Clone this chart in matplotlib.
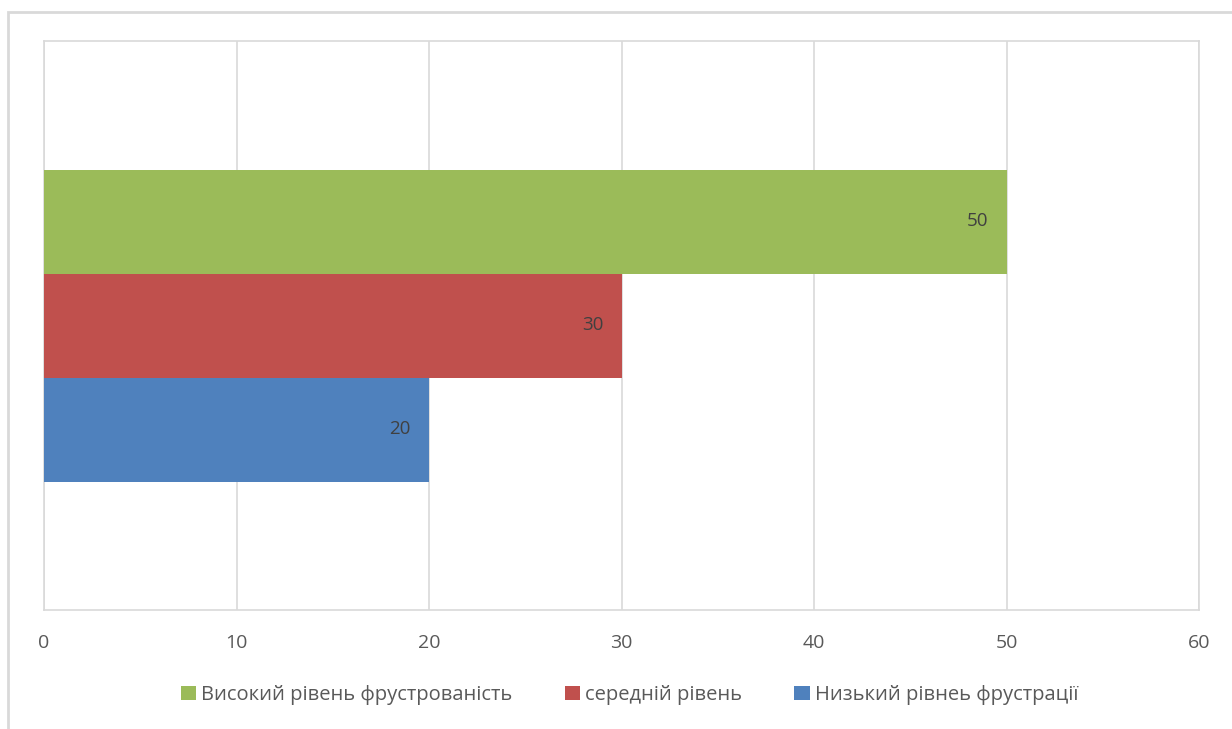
import matplotlib
matplotlib.use("Agg")
import matplotlib.pyplot as plt
from matplotlib.patches import Rectangle

series_names = ["Низький рівнеь фрустрації", "середній рівень", "Високий рівень фрустрованість"]
series_values = [20, 30, 50]
series_colors = ["#4f81bd", "#c0504d", "#9bbb59"]
x_ticks = [0, 10, 20, 30, 40, 50, 60]

plt.rcParams["font.family"] = ["Open Sans", "DejaVu Sans"]

fig = plt.figure(figsize=(12.32, 7.29), dpi=100)
ax = fig.add_axes([44 / 1232, 1 - 610 / 729, (1199 - 44) / 1232, (610 - 41) / 729])

# outer chart frame, partly cropped on the right and bottom
fig.patches.append(Rectangle((8 / 1232, -0.1), 1.2, 0.1 + (729 - 12) / 729,
                             transform=fig.transFigure, fill=False,
                             edgecolor="#d9d9d9", linewidth=2, zorder=0))

bar_h = 104 / 569
offsets = [-bar_h, 0, bar_h]
handles = []
for name, val, col, off in zip(series_names, series_values, series_colors, offsets):
    b = ax.barh(off, val, height=bar_h, color=col, label=name, zorder=3)
    handles.append(b)
    ax.text(val - 0.95, off, str(val), ha="right", va="center",
            fontsize=13.5, color="#404040", zorder=4)

ax.set_xlim(0, 60)
ax.set_ylim(-0.5, 0.5)
ax.set_xticks(x_ticks)
ax.set_yticks([])
ax.grid(axis="x", color="#d9d9d9", linewidth=1.2, zorder=0)
for s in ax.spines.values():
    s.set_color("#d9d9d9")
    s.set_linewidth(1.2)
ax.tick_params(axis="x", length=0, pad=17, labelsize=14, labelcolor="#595959")

leg_handles = handles[::-1]
fig.legend(leg_handles, [h.get_label() for h in leg_handles], loc="center",
           bbox_to_anchor=(0.511, 1 - 695 / 729), ncol=3, frameon=False,
           fontsize=14.5, labelcolor="#595959", handlelength=0.75, handleheight=0.75,
           handletextpad=0.25, columnspacing=2.6)

fig.savefig("out.png", dpi=100)
